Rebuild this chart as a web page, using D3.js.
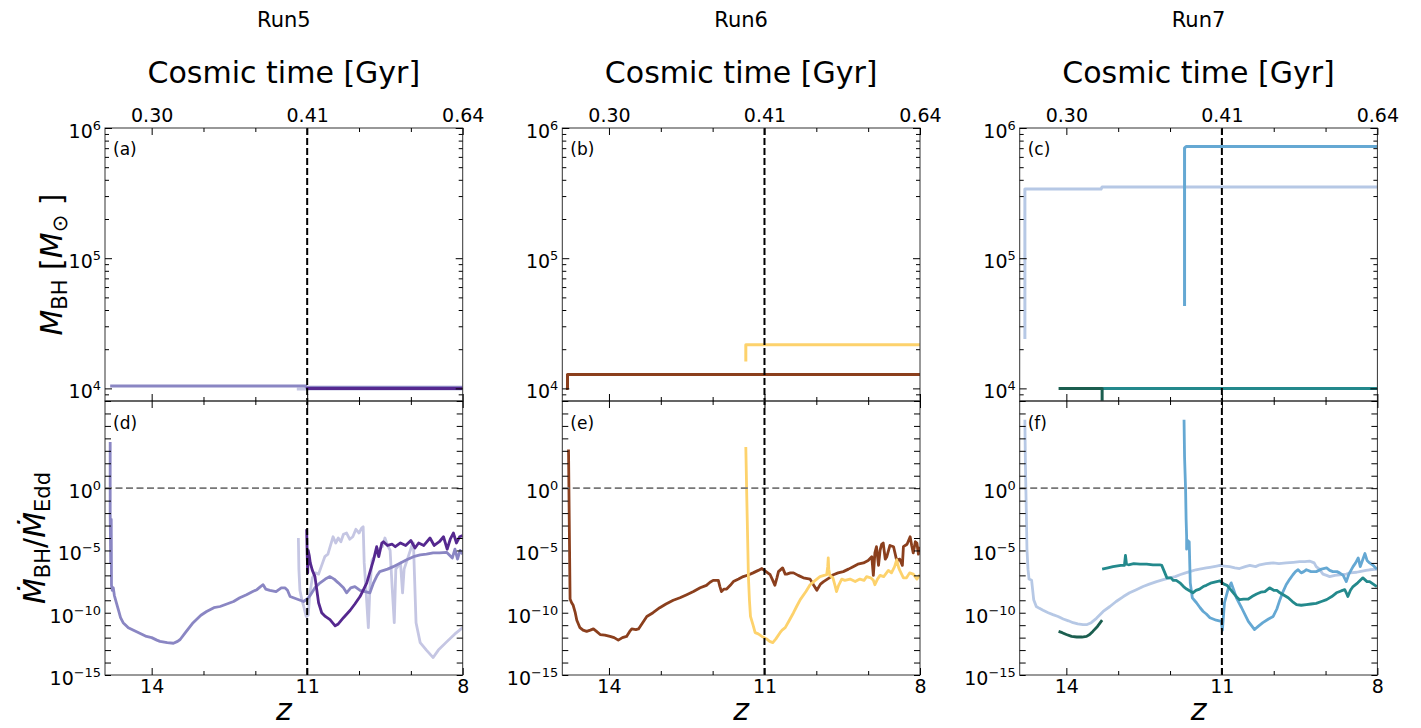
<!DOCTYPE html>
<html>
<head>
<meta charset="utf-8">
<script src="https://cdn.jsdelivr.net/npm/d3@7"></script>
<style>
  body { margin: 0; background: #fff; }
  text { font-family: "DejaVu Sans", sans-serif; fill: #000; }
</style>
</head>
<body>
<script>
// ---- data ----
var runs = ["Run5", "Run6", "Run7"];
var topLetters = ["(a)", "(b)", "(c)"];
var botLetters = ["(d)", "(e)", "(f)"];
var zMajor = [14, 11, 8];
var zMinor = [13, 12, 10, 9];
var timeLabels = ["0.30", "0.41", "0.64"];
var mdotLabels = [1e-15, 1e-10, 1e-5, 1e0];
var zMark = 11;

// BH mass [Msun] vs z
var mass5Light = [[11.2, 9.9e3], [8, 9.9e3]];
var mass5Mid = [[14.8, 1.045e4], [11.03, 1.045e4], [11.02, 1.02e4], [8, 1.02e4]];
var mass5Dark = [[11.02, 1.0e4], [8, 1.0e4]];

var mass6Brown = [[14.83, 1.0e4], [14.8, 1.0e4], [14.8, 1.28e4], [8, 1.28e4]];
var mass6Yellow = [[11.36, 1.61e4], [11.36, 2.16e4], [8, 2.16e4]];

var mass7Light = [[14.8, 2.4e4], [14.8, 3.4e5], [13.33, 3.4e5], [13.31, 3.53e5], [8, 3.53e5]];
var mass7Mid = [[11.72, 4.3e4], [11.72, 7.0e5], [11.69, 7.2e5], [8, 7.2e5]];
var mass7Teal = [[13.31, 1.0e4], [8, 1.0e4]];
var mass7Dark = [[14.15, 1.0e4], [13.31, 1.0e4], [13.31, 7.0e3]];

// log10(Mdot_BH / Mdot_Edd) vs z
var mdot5Light = [[11.17,-4.0],[11.16,-6.5],[11.14,-8.2],[11.1,-9.0],[11.06,-9.6],[11.02,-10.3],[10.98,-10.2],[10.95,-8.5],[10.9,-7.2],[10.84,-6.8],[10.78,-6.9],[10.72,-6.2],[10.66,-5.5],[10.6,-5.3],[10.55,-4.6],[10.5,-3.9],[10.45,-4.4],[10.4,-4.0],[10.35,-4.3],[10.3,-3.7],[10.24,-3.6],[10.18,-4.1],[10.12,-3.9],[10.06,-3.3],[10.0,-3.6],[9.95,-3.2],[9.92,-3.1],[9.9,-6.0],[9.86,-8.5],[9.82,-11.2],[9.79,-8.0],[9.75,-5.8],[9.7,-5.5],[9.62,-4.9],[9.55,-4.7],[9.5,-4.0],[9.45,-4.6],[9.4,-5.0],[9.36,-8.0],[9.32,-10.8],[9.29,-6.5],[9.2,-6.0],[9.16,-8.4],[9.13,-6.5],[9.05,-5.5],[8.98,-4.6],[8.95,-4.4],[8.93,-7.0],[8.9,-10.8],[8.82,-12.4],[8.7,-13.0],[8.57,-13.6],[8.47,-13.0],[8.3,-12.3],[8.15,-11.7],[8.0,-11.2]];
var mdot5Mid = [[14.8,3.7],[14.8,-2.0],[14.79,-6.0],[14.785,-4.0],[14.78,-2.5],[14.775,-7.8],[14.76,-8.2],[14.74,-8.0],[14.72,-8.6],[14.68,-9.2],[14.64,-9.8],[14.6,-10.4],[14.55,-10.8],[14.45,-11.2],[14.35,-11.4],[14.25,-11.6],[14.1,-11.9],[14.0,-12.0],[13.9,-12.2],[13.84,-12.3],[13.7,-12.4],[13.58,-12.45],[13.5,-12.3],[13.45,-12.15],[13.35,-11.6],[13.2,-10.8],[13.05,-10.2],[12.94,-9.9],[12.8,-9.6],[12.68,-9.5],[12.55,-9.3],[12.42,-9.1],[12.3,-8.8],[12.17,-8.55],[12.05,-8.3],[11.97,-8.15],[11.9,-7.9],[11.85,-7.75],[11.8,-8.1],[11.72,-8.2],[11.6,-8.3],[11.5,-8.0],[11.43,-8.0],[11.38,-8.2],[11.33,-8.7],[11.2,-8.9],[11.07,-9.1],[11.0,-8.9],[10.94,-8.6],[10.85,-8.0],[10.75,-7.6],[10.65,-7.3],[10.56,-7.1],[10.48,-7.3],[10.4,-7.6],[10.3,-8.0],[10.24,-8.4],[10.16,-8.0],[10.08,-7.9],[9.98,-8.2],[9.88,-8.3],[9.79,-8.4],[9.72,-7.6],[9.65,-7.0],[9.6,-6.7],[9.45,-6.5],[9.34,-6.3],[9.2,-6.0],[9.08,-5.75],[8.95,-5.5],[8.82,-5.35],[8.7,-5.3],[8.57,-5.2],[8.45,-5.2],[8.31,-5.15],[8.2,-5.6],[8.15,-4.9],[8.1,-5.7],[8.05,-5.0],[8.0,-5.3]];
var mdot5Dark = [[11.01,-3.3],[11.0,-5.3],[10.99,-6.8],[10.98,-5.0],[10.96,-5.4],[10.94,-6.0],[10.9,-6.6],[10.85,-7.1],[10.82,-8.0],[10.78,-9.2],[10.72,-10.0],[10.65,-10.3],[10.56,-10.56],[10.46,-11.05],[10.4,-10.9],[10.3,-10.4],[10.17,-9.8],[10.08,-9.3],[9.98,-8.7],[9.85,-7.6],[9.78,-6.6],[9.72,-5.75],[9.66,-4.7],[9.62,-5.5],[9.56,-4.4],[9.53,-4.3],[9.45,-4.6],[9.36,-4.5],[9.3,-4.7],[9.2,-4.4],[9.1,-4.6],[9.0,-4.2],[8.92,-4.8],[8.85,-4.4],[8.75,-4.6],[8.63,-4.0],[8.55,-4.6],[8.45,-4.3],[8.37,-3.9],[8.3,-4.9],[8.24,-4.1],[8.18,-3.6],[8.12,-4.4],[8.06,-3.9],[8.0,-3.8]];

var mdot6Brown = [[14.78,3.1],[14.77,-1.0],[14.76,-5.0],[14.75,-8.9],[14.72,-9.2],[14.69,-9.4],[14.65,-10.0],[14.62,-10.6],[14.56,-11.2],[14.5,-11.4],[14.43,-11.5],[14.36,-11.4],[14.3,-11.3],[14.24,-11.5],[14.17,-11.75],[14.08,-11.8],[13.98,-11.9],[13.9,-12.0],[13.82,-12.2],[13.74,-12.0],[13.66,-11.9],[13.6,-11.5],[13.56,-11.3],[13.48,-11.35],[13.43,-11.3],[13.35,-10.8],[13.27,-10.3],[13.15,-10.0],[13.02,-9.6],[12.9,-9.3],[12.76,-9.0],[12.63,-8.8],[12.5,-8.55],[12.37,-8.3],[12.24,-8.0],[12.12,-7.8],[12.05,-7.55],[11.99,-7.4],[11.89,-7.4],[11.86,-7.9],[11.83,-8.3],[11.78,-8.1],[11.73,-8.1],[11.66,-7.8],[11.6,-7.5],[11.5,-7.3],[11.41,-7.1],[11.3,-6.95],[11.22,-6.8],[11.12,-6.6],[11.05,-6.45],[10.97,-6.7],[10.89,-6.95],[10.84,-7.4],[10.8,-7.8],[10.76,-7.2],[10.73,-6.7],[10.65,-6.4],[10.6,-6.9],[10.57,-6.9],[10.5,-6.8],[10.44,-6.8],[10.35,-7.0],[10.25,-7.2],[10.12,-7.3],[10.05,-7.8],[9.99,-8.2],[9.92,-7.7],[9.86,-7.5],[9.75,-7.2],[9.67,-6.95],[9.58,-6.8],[9.48,-6.7],[9.38,-6.5],[9.29,-6.3],[9.2,-6.1],[9.09,-6.0],[9.0,-5.8],[8.93,-5.5],[8.9,-7.0],[8.87,-5.2],[8.84,-4.7],[8.8,-6.2],[8.77,-5.0],[8.74,-4.5],[8.71,-4.4],[8.67,-5.7],[8.64,-5.5],[8.58,-4.6],[8.51,-4.7],[8.45,-5.8],[8.39,-5.7],[8.34,-6.2],[8.32,-4.7],[8.25,-4.5],[8.19,-3.9],[8.16,-4.6],[8.13,-5.2],[8.09,-4.3],[8.06,-4.4],[8.03,-5.3],[8.0,-4.7]];
var mdot6Yellow = [[11.36,3.3],[11.34,-1.0],[11.32,-5.0],[11.31,-7.1],[11.29,-9.0],[11.27,-10.3],[11.22,-11.0],[11.18,-11.6],[11.12,-11.7],[11.05,-11.9],[10.96,-12.1],[10.9,-12.3],[10.84,-12.4],[10.78,-12.1],[10.7,-11.6],[10.66,-11.4],[10.6,-11.2],[10.52,-10.6],[10.44,-10.0],[10.38,-9.5],[10.31,-8.95],[10.2,-8.3],[10.12,-7.75],[10.02,-7.4],[9.93,-7.1],[9.85,-7.0],[9.8,-6.95],[9.78,-6.3],[9.77,-5.6],[9.76,-6.5],[9.74,-7.0],[9.68,-7.2],[9.64,-7.8],[9.61,-8.3],[9.57,-7.8],[9.51,-7.3],[9.45,-7.4],[9.35,-7.3],[9.25,-7.5],[9.16,-7.3],[9.08,-7.4],[9.03,-7.1],[8.95,-7.2],[8.9,-7.4],[8.87,-7.75],[8.82,-7.3],[8.77,-7.0],[8.7,-7.1],[8.61,-6.6],[8.55,-6.8],[8.49,-6.3],[8.45,-5.75],[8.41,-6.4],[8.39,-6.6],[8.32,-7.2],[8.26,-7.2],[8.2,-6.8],[8.13,-6.9],[8.06,-7.3],[8.0,-6.95]];

var mdot7Light = [[14.8,5.5],[14.79,2.0],[14.78,-0.2],[14.76,-4.9],[14.74,-6.5],[14.72,-7.3],[14.67,-7.4],[14.63,-8.95],[14.58,-9.5],[14.52,-9.65],[14.45,-9.8],[14.35,-10.0],[14.26,-10.15],[14.16,-10.3],[14.06,-10.5],[13.96,-10.65],[13.87,-10.8],[13.78,-10.9],[13.68,-10.95],[13.6,-10.95],[13.52,-10.8],[13.42,-10.45],[13.29,-9.9],[13.16,-9.5],[13.04,-9.1],[12.9,-8.7],[12.78,-8.4],[12.65,-8.15],[12.52,-7.9],[12.4,-7.7],[12.26,-7.5],[12.13,-7.35],[12.01,-7.2],[11.9,-7.1],[11.81,-6.95],[11.7,-6.8],[11.62,-6.7],[11.5,-6.55],[11.43,-6.5],[11.3,-6.4],[11.23,-6.35],[11.1,-6.25],[11.04,-6.2],[10.95,-6.25],[10.85,-6.3],[10.75,-6.4],[10.66,-6.45],[10.55,-6.3],[10.46,-6.2],[10.35,-6.3],[10.27,-6.15],[10.15,-6.05],[10.01,-6.0],[9.9,-6.05],[9.76,-6.0],[9.62,-5.95],[9.5,-5.9],[9.4,-5.9],[9.31,-5.85],[9.22,-6.0],[9.18,-6.3],[9.12,-6.5],[9.05,-6.9],[8.98,-7.0],[8.92,-7.1],[8.82,-7.0],[8.73,-6.95],[8.6,-6.9],[8.53,-6.8],[8.4,-6.75],[8.34,-6.7],[8.22,-6.6],[8.15,-6.55],[8.0,-6.5]];
var mdot7Mid = [[11.73,5.5],[11.72,2.5],[11.7,-0.1],[11.69,-2.5],[11.68,-3.9],[11.68,-4.9],[11.66,-4.2],[11.64,-4.6],[11.63,-4.3],[11.62,-6.0],[11.61,-7.6],[11.57,-8.8],[11.49,-9.2],[11.42,-9.6],[11.36,-9.9],[11.3,-10.1],[11.23,-10.4],[11.11,-10.6],[11.01,-10.7],[10.99,-11.4],[10.97,-10.3],[10.95,-9.2],[10.88,-8.1],[10.82,-7.6],[10.77,-8.2],[10.72,-8.8],[10.62,-9.6],[10.49,-10.7],[10.37,-11.35],[10.3,-11.1],[10.21,-10.8],[10.1,-10.5],[10.01,-10.3],[9.94,-9.7],[9.88,-8.95],[9.82,-8.3],[9.76,-7.75],[9.69,-7.3],[9.63,-6.95],[9.58,-6.7],[9.53,-6.55],[9.47,-6.8],[9.42,-6.7],[9.37,-6.55],[9.28,-6.7],[9.18,-6.7],[9.08,-6.5],[8.98,-6.4],[8.92,-6.6],[8.86,-6.7],[8.78,-6.7],[8.73,-6.8],[8.66,-7.0],[8.6,-7.5],[8.55,-6.9],[8.47,-6.3],[8.42,-6.0],[8.37,-5.6],[8.33,-6.3],[8.28,-5.7],[8.24,-5.25],[8.2,-5.8],[8.15,-6.0],[8.08,-6.2],[8.01,-6.5]];
var mdot7Teal = [[13.31,-6.5],[13.2,-6.4],[13.1,-6.3],[12.95,-6.2],[12.88,-6.2],[12.86,-5.4],[12.84,-6.1],[12.8,-6.15],[12.7,-6.05],[12.58,-6.1],[12.45,-6.1],[12.33,-6.15],[12.2,-6.15],[12.16,-6.2],[12.1,-6.8],[12.06,-7.2],[11.98,-7.2],[11.94,-7.4],[11.88,-7.4],[11.81,-7.6],[11.74,-7.9],[11.68,-8.1],[11.6,-8.3],[11.56,-8.4],[11.5,-8.2],[11.43,-8.1],[11.36,-7.9],[11.3,-7.8],[11.2,-7.6],[11.1,-7.5],[11.04,-7.45],[10.96,-7.7],[10.9,-7.8],[10.84,-8.1],[10.78,-8.4],[10.7,-8.8],[10.66,-8.95],[10.58,-8.9],[10.49,-8.9],[10.42,-8.7],[10.33,-8.5],[10.25,-8.35],[10.17,-8.3],[10.08,-8.0],[10.0,-8.2],[9.94,-8.2],[9.88,-8.4],[9.8,-8.6],[9.72,-8.8],[9.64,-9.1],[9.56,-9.35],[9.47,-9.4],[9.37,-9.35],[9.28,-9.3],[9.18,-9.25],[9.08,-9.1],[8.98,-8.95],[8.88,-8.7],[8.79,-8.4],[8.7,-8.25],[8.63,-8.15],[8.6,-8.4],[8.57,-8.7],[8.52,-8.2],[8.47,-7.9],[8.38,-7.6],[8.28,-7.2],[8.2,-7.5],[8.15,-7.5],[8.08,-7.7],[8.01,-7.9]];
var mdot7Dark = [[14.15,-11.5],[14.08,-11.6],[14.0,-11.75],[13.9,-11.9],[13.8,-11.95],[13.7,-11.95],[13.61,-11.9],[13.55,-11.75],[13.49,-11.5],[13.4,-11.1],[13.31,-10.6]];

var massSeries = [
  [mass5Light, mass5Mid, mass5Dark],
  [mass6Brown, mass6Yellow],
  [mass7Light, mass7Mid, mass7Teal, mass7Dark]
];
var mdotSeries = [
  [mdot5Light, mdot5Mid, mdot5Dark],
  [mdot6Brown, mdot6Yellow],
  [mdot7Light, mdot7Mid, mdot7Teal, mdot7Dark]
];
var colors = [
  ["#c5c6e3", "#8a86c3", "#55288f"],
  ["#8b3f1d", "#fdd26c"],
  ["#b6c8e5", "#65a8d3", "#23898c", "#1b5e4f"]
];

// ---- layout ----
var W = 1421, H = 728;
var panelX = [105, 562.3, 1019.7],
    panelW = 357.7,
    topY = 128, midY = 401, botY = 675;

var svg = d3.select("body").append("svg")
    .attr("width", W)
    .attr("height", H);

function supLabel(sel) {
  sel.each(function(d) {
    var e = Math.round(Math.log10(d));
    var t = d3.select(this).text("").attr("dy", "0.5em");
    t.append("tspan").text("10");
    t.append("tspan")
      .attr("dy", "-0.62em")
      .attr("font-size", "0.68em")
      .text(e < 0 ? "\u2212" + (-e) : e);
  });
}

function styleAxis(g) {
  g.select(".domain").remove();
  g.attr("font-size", 19).attr("font-family", "DejaVu Sans");
  g.selectAll(".tick line").attr("stroke", "#000").attr("stroke-width", 1);
}

runs.forEach(function(run, i) {
  var g = svg.append("g").attr("transform", "translate(" + panelX[i] + ",0)");

  var x = d3.scaleLinear().domain([14.9, 8]).range([0, panelW]);
  var yM = d3.scaleLog().domain([8e3, 1e6]).range([midY, topY]);
  var yR = d3.scaleLog().domain([1e-15, 1e7]).range([botY, midY]);

  // clips
  var clipT = "clipT" + i, clipB = "clipB" + i;
  g.append("clipPath").attr("id", clipT).append("rect")
    .attr("x", 0).attr("y", topY).attr("width", panelW).attr("height", midY - topY);
  g.append("clipPath").attr("id", clipB).append("rect")
    .attr("x", 0).attr("y", midY).attr("width", panelW).attr("height", botY - midY);

  var lineM = d3.line()
    .x(function(d) { return x(d[0]); })
    .y(function(d) { return yM(d[1]); });
  var lineR = d3.line()
    .x(function(d) { return x(d[0]); })
    .y(function(d) { return yR(Math.pow(10, d[1])); });

  var gT = g.append("g").attr("clip-path", "url(#" + clipT + ")");
  massSeries[i].forEach(function(s, k) {
    gT.append("path")
      .datum(s)
      .attr("fill", "none")
      .attr("stroke", colors[i][k])
      .attr("stroke-width", 3)
      .attr("stroke-linejoin", "round")
      .attr("d", lineM);
  });

  var gB = g.append("g").attr("clip-path", "url(#" + clipB + ")");
  mdotSeries[i].forEach(function(s, k) {
    gB.append("path")
      .datum(s)
      .attr("fill", "none")
      .attr("stroke", colors[i][k])
      .attr("stroke-width", 2.8)
      .attr("stroke-linejoin", "round")
      .attr("d", lineR);
  });

  // Eddington line
  g.append("line")
    .attr("x1", 0).attr("x2", panelW)
    .attr("y1", yR(1)).attr("y2", yR(1))
    .attr("stroke", "#777")
    .attr("stroke-width", 1.8)
    .attr("stroke-dasharray", "7,3.5");

  // z = 11 marker
  g.append("line")
    .attr("x1", x(zMark)).attr("x2", x(zMark))
    .attr("y1", topY).attr("y2", botY)
    .attr("stroke", "#000")
    .attr("stroke-width", 2)
    .attr("stroke-dasharray", "7,3");

  // spines
  [[topY, midY], [midY, botY]].forEach(function(r) {
    g.append("rect")
      .attr("x", 0).attr("y", r[0])
      .attr("width", panelW).attr("height", r[1] - r[0])
      .attr("fill", "none")
      .attr("stroke", "#333")
      .attr("stroke-width", 1);
  });

  // x ticks
  g.append("g").attr("transform", "translate(0," + topY + ")")
    .call(d3.axisTop(x).tickValues(zMajor).tickSize(-7).tickPadding(6)
      .tickFormat(function(d, k) { return timeLabels[k]; }))
    .call(styleAxis);
  g.append("g").attr("transform", "translate(0," + topY + ")")
    .call(d3.axisTop(x).tickValues(zMinor).tickSize(-4).tickFormat(""))
    .call(styleAxis);
  [midY].forEach(function(yy) {
    g.append("g").attr("transform", "translate(0," + yy + ")")
      .call(d3.axisTop(x).tickValues(zMajor).tickSize(7).tickFormat(""))
      .call(styleAxis);
    g.append("g").attr("transform", "translate(0," + yy + ")")
      .call(d3.axisTop(x).tickValues(zMinor).tickSize(4).tickFormat(""))
      .call(styleAxis);
    g.append("g").attr("transform", "translate(0," + yy + ")")
      .call(d3.axisBottom(x).tickValues(zMajor).tickSize(7).tickFormat(""))
      .call(styleAxis);
    g.append("g").attr("transform", "translate(0," + yy + ")")
      .call(d3.axisBottom(x).tickValues(zMinor).tickSize(4).tickFormat(""))
      .call(styleAxis);
  });
  g.append("g").attr("transform", "translate(0," + botY + ")")
    .call(d3.axisBottom(x).tickValues(zMajor).tickSize(-7).tickPadding(5)
      .tickFormat(d3.format("d")))
    .call(styleAxis);
  g.append("g").attr("transform", "translate(0," + botY + ")")
    .call(d3.axisBottom(x).tickValues(zMinor).tickSize(-4).tickFormat(""))
    .call(styleAxis);

  // y ticks, mass panel
  var mTicks = yM.ticks();
  var mMajor = mTicks.filter(function(d) { return Math.abs(Math.log10(d) % 1) < 1e-9; });
  var mMinor = mTicks.filter(function(d) { return Math.abs(Math.log10(d) % 1) >= 1e-9; });
  g.append("g")
    .call(d3.axisLeft(yM).tickValues(mMajor).tickSize(-7).tickPadding(4))
    .call(styleAxis)
    .call(function(a) { a.selectAll(".tick text").call(supLabel); });
  g.append("g")
    .call(d3.axisLeft(yM).tickValues(mMinor).tickSize(-4).tickFormat(""))
    .call(styleAxis);
  g.append("g").attr("transform", "translate(" + panelW + ",0)")
    .call(d3.axisRight(yM).tickValues(mMajor).tickSize(-7).tickFormat(""))
    .call(styleAxis);
  g.append("g").attr("transform", "translate(" + panelW + ",0)")
    .call(d3.axisRight(yM).tickValues(mMinor).tickSize(-4).tickFormat(""))
    .call(styleAxis);

  // y ticks, accretion panel
  var rTicks = d3.range(-15, 8).map(function(e) { return Math.pow(10, e); });
  g.append("g")
    .call(d3.axisLeft(yR).tickValues(rTicks).tickSize(-6).tickFormat(""))
    .call(styleAxis);
  g.append("g")
    .call(d3.axisLeft(yR).tickValues(mdotLabels).tickSize(0).tickPadding(4))
    .call(styleAxis)
    .call(function(a) { a.selectAll(".tick text").call(supLabel); });
  g.append("g").attr("transform", "translate(" + panelW + ",0)")
    .call(d3.axisRight(yR).tickValues(rTicks).tickSize(-6).tickFormat(""))
    .call(styleAxis);

  // panel letters
  g.append("text").attr("x", 8).attr("y", 155).attr("font-size", 17).text(topLetters[i]);
  g.append("text").attr("x", 8).attr("y", 429).attr("font-size", 17).text(botLetters[i]);

  // titles
  g.append("text")
    .attr("x", panelW / 2).attr("y", 27)
    .attr("text-anchor", "middle").attr("font-size", 21)
    .text(run);
  g.append("text")
    .attr("x", panelW / 2).attr("y", 83)
    .attr("text-anchor", "middle").attr("font-size", 30)
    .text("Cosmic time [Gyr]");

  // x label
  g.append("text")
    .attr("x", panelW / 2).attr("y", 720)
    .attr("text-anchor", "middle").attr("font-size", 30)
    .attr("font-style", "italic")
    .text("z");
});

// y labels
var yl1 = svg.append("text")
    .attr("transform", "translate(62," + ((topY + midY) / 2) + ") rotate(-90)")
    .attr("text-anchor", "middle")
    .attr("font-size", 30);
yl1.append("tspan").attr("font-style", "italic").text("M");
yl1.append("tspan").attr("font-size", 21).attr("dy", 5).text("BH");
yl1.append("tspan").attr("dy", -5).text(" [");
yl1.append("tspan").attr("font-style", "italic").text("M");
yl1.append("tspan").attr("font-size", 21).attr("dy", 5).text("\u2299");
yl1.append("tspan").attr("dy", -5).text(" ]");

var yl2 = svg.append("text")
    .attr("transform", "translate(45," + ((midY + botY) / 2) + ") rotate(-90)")
    .attr("text-anchor", "middle")
    .attr("font-size", 30);
yl2.append("tspan").attr("font-style", "italic").text("\u1E40");
yl2.append("tspan").attr("font-size", 21).attr("dy", 5).text("BH");
yl2.append("tspan").attr("dy", -5).text("/");
yl2.append("tspan").attr("font-style", "italic").text("\u1E40");
yl2.append("tspan").attr("font-size", 21).attr("dy", 5).text("Edd");
</script>
</body>
</html>
